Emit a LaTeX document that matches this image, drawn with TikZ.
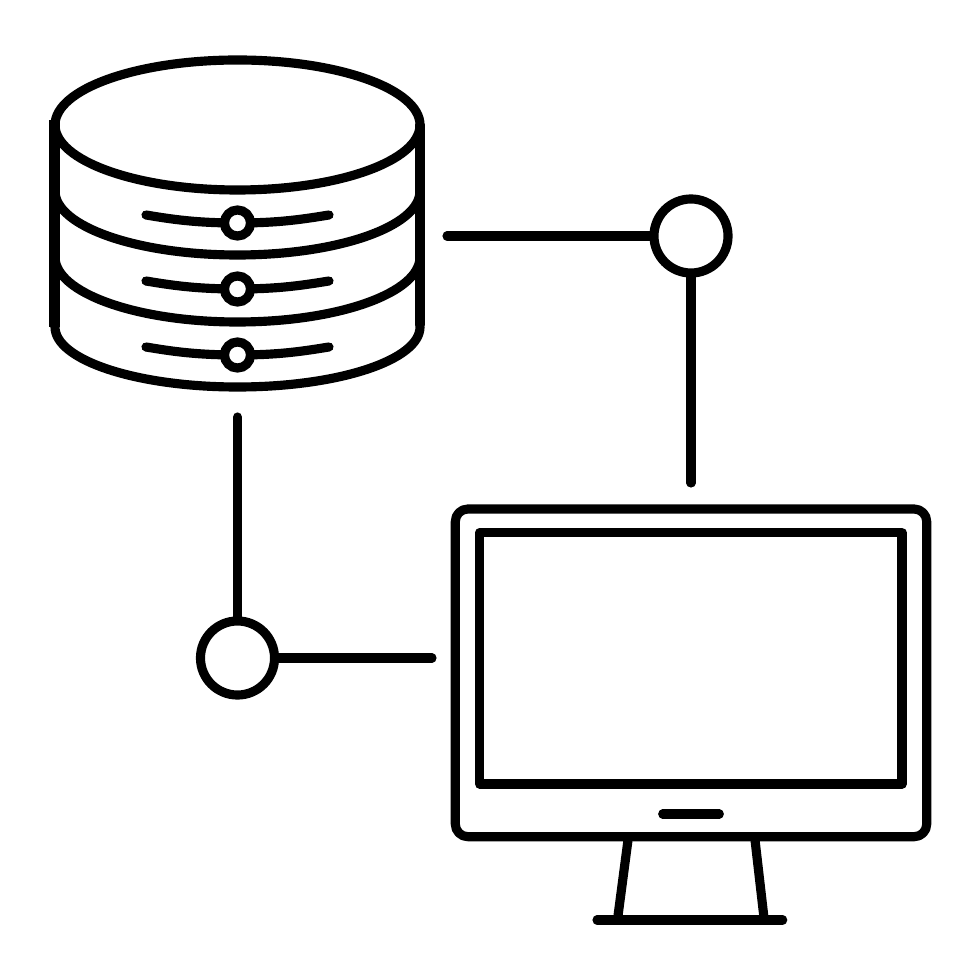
\documentclass[tikz,border=0pt]{standalone}
\usepackage{tikz}
\begin{document}
\begin{tikzpicture}[x=0.01cm,y=-0.01cm]
	\tikzset{myline/.style={line width=2.6pt,line cap=round,line join=round,black},
		myhub/.style={circle,draw,line width=2.6pt,minimum size=0.74cm,inner sep=0pt,fill=white},
		myled/.style={circle,draw,line width=2.6pt,minimum size=0.26cm,inner sep=0pt,fill=white}}
	\useasboundingbox[fill=white] (0,0) rectangle (980,980);
	%Begin plot
	\draw[myline] (237.5,125) ellipse [x radius=182.5,y radius=65];
	\draw[myline,line width=3pt,line cap=butt] (54.5,120) -- (54.5,327);
	\draw[myline] (420,125) -- (420,325);
	\foreach \y/\h in {191/64,257/65,327/60}{
		\draw[myline] (55,\y) arc [start angle=180,end angle=0,x radius=182.5,y radius=\h];
	}
	\foreach \y/\name in {223/ledA,289/ledB,355/ledC}{
		\draw[myline] (146,{\y-8}) .. controls (170,{\y-4}) and (195,\y) .. (237.5,\y) .. controls (280,\y) and (304,{\y-4}) .. (329,{\y-8});
		\node[myled] (\name) at (237.5,\y) {};
	}
	\node[myhub] (hubA) at (691,236) {};
	\node[myhub] (hubB) at (237.5,658) {};
	\coordinate (dbright) at (447,236);
	\coordinate (dbbottom) at (237.5,417);
	\coordinate (pctop) at (691,483);
	\coordinate (pcleft) at (432,658);
	\draw[myline] (dbright) -- (hubA);
	\draw[myline] (hubA) -- (pctop);
	\draw[myline] (dbbottom) -- (hubB);
	\draw[myline] (hubB) -- (pcleft);
	%Monitor
	\draw[myline,rounded corners=0.125cm] (455.3,509) rectangle (926.7,836.7);
	\draw[myline] (479.7,532.7) rectangle (902,784);
	\draw[myline] (662.7,814) -- (719.3,814);
	\draw[myline] (628,840) -- (617.7,918);
	\draw[myline] (755,840) -- (764,918);
	\draw[myline] (597,920) -- (782.7,920);
\end{tikzpicture}
\end{document}
